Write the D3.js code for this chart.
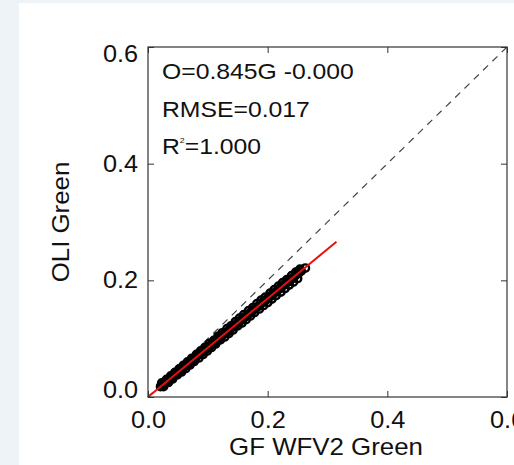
<!DOCTYPE html>
<html>
<head>
<meta charset="utf-8">
<script src="https://cdn.jsdelivr.net/npm/d3@7"></script>
<style>
  html, body { margin: 0; padding: 0; background: #eef3f8; }
  svg { display: block; font-family: "Liberation Sans", Arial, sans-serif; }
</style>
</head>
<body>
<div id="graph-container"></div>
<script>
// Data
var xTicks = [0.0, 0.2, 0.4, 0.6];
var yTicks = [0.0, 0.2, 0.4, 0.6];
var wfvGreen = [0.021, 0.025, 0.029, 0.032, 0.036, 0.040, 0.043, 0.047, 0.050, 0.054,
  0.057, 0.061, 0.065, 0.068, 0.072, 0.075, 0.079, 0.083, 0.086, 0.090,
  0.094, 0.097, 0.101, 0.104, 0.108, 0.112, 0.115, 0.119, 0.122, 0.126,
  0.130, 0.133, 0.137, 0.140, 0.144, 0.148, 0.151, 0.155, 0.158, 0.162,
  0.166, 0.169, 0.173, 0.176, 0.180, 0.184, 0.187, 0.191, 0.194, 0.198,
  0.202, 0.205, 0.209, 0.212, 0.216, 0.220, 0.223, 0.227, 0.230, 0.234,
  0.238, 0.241, 0.245, 0.248, 0.252, 0.256, 0.263,
  0.023, 0.031, 0.038, 0.045, 0.052, 0.059, 0.066, 0.073, 0.081, 0.088,
  0.095, 0.103, 0.110, 0.117, 0.124, 0.132, 0.139, 0.146, 0.153, 0.160,
  0.168, 0.175, 0.182, 0.189, 0.196, 0.204, 0.211, 0.218, 0.225, 0.232,
  0.240, 0.247, 0.254,
  0.026, 0.034, 0.041, 0.049, 0.056, 0.063, 0.070, 0.077, 0.085, 0.092,
  0.099, 0.106, 0.113, 0.121, 0.128, 0.135, 0.142, 0.150, 0.157, 0.164,
  0.171, 0.178, 0.186, 0.193, 0.200, 0.207, 0.214, 0.222, 0.229, 0.236,
  0.243, 0.250];
var oliGreen = [0.018, 0.021, 0.025, 0.027, 0.031, 0.033, 0.037, 0.040, 0.042, 0.046,
  0.048, 0.052, 0.055, 0.057, 0.061, 0.064, 0.066, 0.071, 0.073, 0.076,
  0.080, 0.082, 0.085, 0.088, 0.092, 0.094, 0.097, 0.101, 0.103, 0.107,
  0.110, 0.112, 0.116, 0.119, 0.121, 0.125, 0.128, 0.131, 0.133, 0.137,
  0.140, 0.143, 0.146, 0.149, 0.152, 0.155, 0.158, 0.162, 0.164, 0.167,
  0.171, 0.173, 0.177, 0.179, 0.182, 0.186, 0.189, 0.192, 0.194, 0.198,
  0.201, 0.203, 0.207, 0.210, 0.213, 0.216, 0.221,
  0.024, 0.030, 0.036, 0.042, 0.048, 0.054, 0.060, 0.066, 0.073, 0.079,
  0.085, 0.092, 0.097, 0.104, 0.110, 0.117, 0.122, 0.129, 0.135, 0.141,
  0.148, 0.153, 0.160, 0.166, 0.171, 0.178, 0.184, 0.190, 0.196, 0.201,
  0.208, 0.214, 0.219,
  0.018, 0.025, 0.031, 0.038, 0.043, 0.049, 0.055, 0.061, 0.067, 0.073,
  0.079, 0.085, 0.091, 0.098, 0.103, 0.109, 0.115, 0.122, 0.127, 0.133,
  0.139, 0.145, 0.151, 0.157, 0.162, 0.168, 0.174, 0.180, 0.186, 0.192,
  0.197, 0.203];
var fitSlope = 0.845;
var fitIntercept = 0.0;
var fitRange = [0.0, 0.315];
var statLines = ["O=0.845G -0.000", "RMSE=0.017", "R", "=1.000"];

var svgWidth = 514, svgHeight = 465;
var plotLeft = 148, plotRight = 507, plotTop = 47, plotBottom = 397;
var stretch = "scale(1.1,1)";

var svg = d3.select("#graph-container")
  .append("svg")
  .attr("width", svgWidth)
  .attr("height", svgHeight);

// white panel
svg.append("rect")
  .attr("x", 19).attr("y", 3)
  .attr("width", svgWidth - 19).attr("height", svgHeight - 3)
  .attr("fill", "#fff");

var x = d3.scaleLinear().domain([0, 0.6]).range([plotLeft, plotRight]);
var y = d3.scaleLinear().domain([0, 0.6]).range([plotBottom, plotTop]);

// 1:1 line
svg.append("line")
  .attr("x1", x(0)).attr("y1", y(0))
  .attr("x2", x(0.6)).attr("y2", y(0.6))
  .attr("stroke", "#444")
  .attr("stroke-width", 1.2)
  .attr("stroke-dasharray", "7,6");

// points
svg.append("g")
  .selectAll("circle")
  .data(wfvGreen)
  .enter().append("circle")
  .attr("cx", function (d) { return x(d); })
  .attr("cy", function (d, i) { return y(oliGreen[i]); })
  .attr("r", 3.7)
  .attr("fill", "none")
  .attr("stroke", "#000")
  .attr("stroke-width", 2.4);

// fit line
var fit = d3.line()
  .x(function (d) { return x(d); })
  .y(function (d) { return y(fitSlope * d + fitIntercept); });
svg.append("path")
  .datum(fitRange)
  .attr("d", fit)
  .attr("fill", "none")
  .attr("stroke", "#e8100c")
  .attr("stroke-width", 2);

// axes, ticks inward on all sides
var tickFmt = d3.format(".1f");
var xAxis = svg.append("g")
  .attr("transform", "translate(0," + plotBottom + ")")
  .call(d3.axisBottom(x).tickValues(xTicks).tickFormat(tickFmt)
    .tickSizeInner(-6).tickSizeOuter(0).tickPadding(15));
var yAxis = svg.append("g")
  .attr("transform", "translate(" + plotLeft + ",0)")
  .call(d3.axisLeft(y).tickValues(yTicks).tickFormat(tickFmt)
    .tickSizeInner(-6).tickSizeOuter(0).tickPadding(9));
svg.append("g")
  .attr("transform", "translate(0," + plotTop + ")")
  .call(d3.axisTop(x).tickValues(xTicks).tickFormat("")
    .tickSizeInner(-6).tickSizeOuter(0));
svg.append("g")
  .attr("transform", "translate(" + plotRight + ",0)")
  .call(d3.axisRight(y).tickValues(yTicks).tickFormat("")
    .tickSizeInner(-6).tickSizeOuter(0));

svg.selectAll(".domain").remove();
svg.selectAll(".tick line").attr("stroke", "#333");
svg.selectAll(".tick text")
  .attr("font-family", "Liberation Sans, Arial, sans-serif")
  .attr("font-size", 23)
  .attr("fill", "#111")
  .attr("transform", stretch);
// end labels sit inside the frame height
yAxis.selectAll(".tick text")
  .attr("y", function (d) { return d === 0.6 ? 7.5 : (d === 0 ? -7 : 0); });

// frame
svg.append("rect")
  .attr("x", plotLeft).attr("y", plotTop)
  .attr("width", plotRight - plotLeft).attr("height", plotBottom - plotTop)
  .attr("fill", "none")
  .attr("stroke", "#333")
  .attr("stroke-width", 1.2);

// stats text
var stats = svg.append("g")
  .attr("font-size", 22.5)
  .attr("fill", "#111");
stats.append("text")
  .attr("transform", "translate(162,79) " + stretch)
  .text(statLines[0]);
stats.append("text")
  .attr("transform", "translate(162,117) " + stretch)
  .text(statLines[1]);
var r2 = stats.append("text")
  .attr("transform", "translate(162,154) " + stretch);
r2.append("tspan").text(statLines[2]);
r2.append("tspan").attr("font-size", 8).attr("dy", -11).text("2");
r2.append("tspan").attr("dy", 11).text(statLines[3]);

// axis titles
svg.append("text")
  .attr("transform", "translate(326,455) " + stretch)
  .attr("text-anchor", "middle")
  .attr("font-size", 23.5)
  .attr("fill", "#111")
  .text("GF WFV2 Green");
svg.append("text")
  .attr("transform", "translate(68.5,222) rotate(-90) " + stretch)
  .attr("text-anchor", "middle")
  .attr("font-size", 23.5)
  .attr("fill", "#111")
  .text("OLI Green");
</script>
</body>
</html>
